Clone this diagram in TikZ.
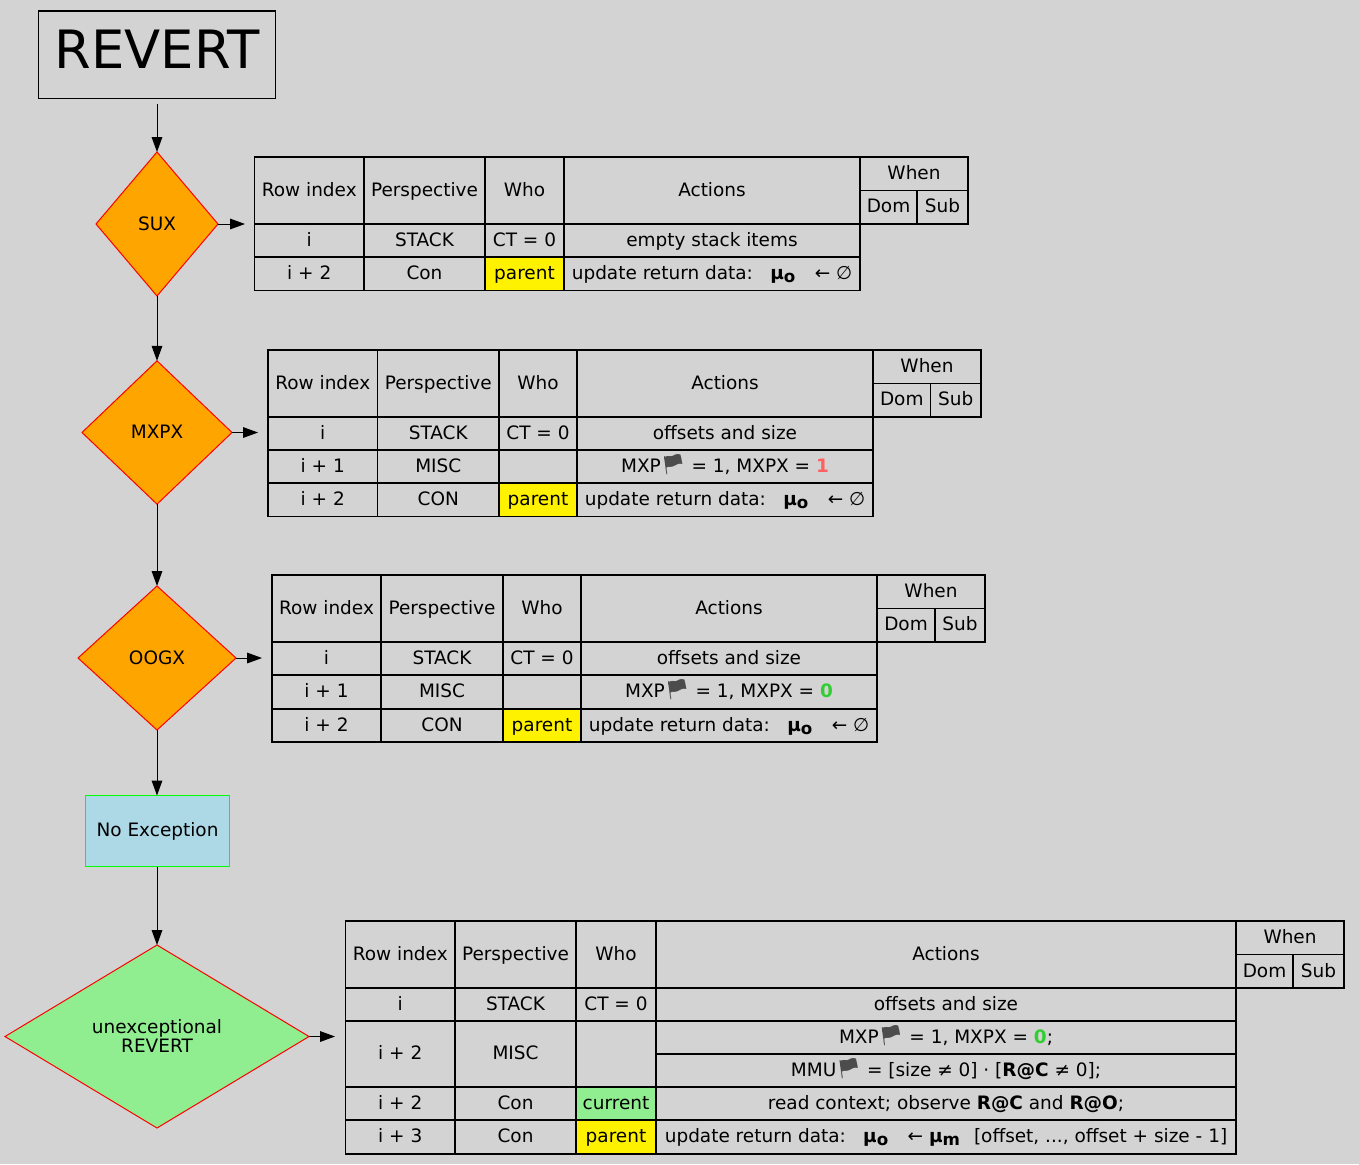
\documentclass[tikz,border=0pt]{standalone}
\usepackage{fontspec}
\setmainfont{DejaVu Sans}
\newfontfamily\emojifont{Noto Emoji}
\usetikzlibrary{shapes.geometric,arrows.meta}
\definecolor{bg}{HTML}{D3D3D3}
\definecolor{hotred}{HTML}{FF6060}
\definecolor{okgreen}{HTML}{32CD32}
\definecolor{lgreen}{HTML}{90EE90}
\definecolor{lblue}{HTML}{ADD8E6}
\definecolor{dorange}{HTML}{FFA500}
\newcommand{\bm}[1]{{\bfseries #1}}
\newcommand{\flagmark}{\raisebox{0.9pt}{\hspace{-0.2pt}{\emojifont\fontsize{15}{15}\selectfont\textcolor{black!70}{\symbol{"1F3F4}}}\hspace{-0.2pt}}}
\newcommand{\muo}{\bm{μ}\raisebox{-2.2pt}{\bm{\fontsize{12.5}{12.5}\selectfont o}}}
\newcommand{\mum}{\bm{μ}\raisebox{-2.2pt}{\bm{\fontsize{12.5}{12.5}\selectfont m}}}
\newcommand{\update}[1]{update return data:\hspace{13pt}\muo\hspace{14.6pt}← #1}
\tikzset{
  cellbox/.style={draw=black,line width=0.8pt,rectangle,inner sep=0pt,outer sep=0pt,
    text height=8.6pt,text depth=0pt,font=\fontsize{13.85}{15}\selectfont},
  diam/.style={diamond,draw=red,line width=0.75pt,inner sep=0pt,outer sep=0pt,shape aspect=1,
    align=center,font=\fontsize{13.85}{14.2}\selectfont},
  flow/.style={draw=black,line width=0.75pt,-{Triangle[length=11.25pt,width=8pt]}},
}
\newcommand{\tcell}[7][none]{%
  \node[cellbox,fill=#1,minimum width={(#5-#3)*0.75pt},minimum height={(#6-#4)*0.75pt}]
    (#2) at ({(#3+#5)/2},{(#4+#6)/2}) {#7};}
% header: prefix x0..x6 y0
\newcommand{\thead}[9]{%
  \def\xa{#2}\def\xb{#3}\def\xc{#4}\def\xd{#5}\def\xe{#6}\def\xf{#7}\def\xg{#8}%
  \pgfmathsetmacro{\ya}{#9+33.5}\pgfmathsetmacro{\yb}{#9+67}%
  \tcell{#1h1}{#2}{#9}{#3}{\yb}{Row index}%
  \tcell{#1h2}{#3}{#9}{#4}{\yb}{Perspective}%
  \tcell{#1h3}{#4}{#9}{#5}{\yb}{Who}%
  \tcell{#1h4}{#5}{#9}{#6}{\yb}{Actions}%
  \tcell{#1h5}{#6}{#9}{#8}{\ya}{When}%
  \tcell{#1h6}{#6}{\ya}{#7}{\yb}{Dom}%
  \tcell{#1h7}{#7}{\ya}{#8}{\yb}{Sub}}
% row: name y1 y2 idx persp fill who action
\newcommand{\trow}[8]{%
  \tcell{#1a}{\xa}{#2}{\xb}{#3}{#4}%
  \tcell{#1b}{\xb}{#2}{\xc}{#3}{#5}%
  \tcell[#6]{#1c}{\xc}{#2}{\xd}{#3}{#7}%
  \tcell{#1d}{\xd}{#2}{\xe}{#3}{#8}}
\begin{document}
\begin{tikzpicture}[x=0.75pt,y=-0.75pt]
\useasboundingbox[fill=bg] (0,0) rectangle (1359,1164);

% flow nodes
\node[draw=black,line width=0.8pt,rectangle,inner sep=0pt,outer sep=0pt,minimum width=177.75pt,minimum height=65.6pt,text height=20.6pt,text depth=0pt,font=\fontsize{39.6}{40}\selectfont]
  (revert) at (157,54.75) {REVERT};
\node[diam,fill=dorange,minimum width=91.5pt,minimum height=108pt] (sux) at (157,224) {SUX};
\node[diam,fill=dorange,minimum width=112.5pt,minimum height=107.5pt] (mxpx) at (157,432.5) {\raisebox{0.5pt}{MXPX}};
\node[diam,fill=dorange,minimum width=118.5pt,minimum height=108pt] (oogx) at (157,658) {OOGX};
\node[draw=green,line width=0.9pt,fill=lblue,rectangle,inner sep=0pt,outer sep=0pt,minimum width=108pt,minimum height=53.25pt,font=\fontsize{13.85}{15}\selectfont]
  (noexc) at (157.5,831) {No Exception};
\node[diam,fill=lgreen,minimum width=228pt,minimum height=137.25pt] (unexc) at (157,1036.5) {\raisebox{0.6pt}{unexceptional}\\\raisebox{0.6pt}{REVERT}};

% table 1
\thead{t1}{254.5}{364}{485}{564}{860}{917}{968}{157}
\trow{t1r1}{224}{257}{i}{STACK}{none}{CT = 0}{empty stack items}
\trow{t1r2}{257}{290.5}{i + 2}{Con}{yellow}{parent}{\update{∅}}

% table 2
\thead{t2}{268}{377.5}{499}{577}{873}{930.5}{981}{350}
\trow{t2r1}{417}{450}{i}{STACK}{none}{CT = 0}{offsets and size}
\trow{t2r2}{450}{483}{i + 1}{MISC}{none}{}{MXP\flagmark{} = 1, MXPX = \textcolor{hotred}{\bm{1}}}
\trow{t2r3}{483}{516.5}{i + 2}{CON}{yellow}{parent}{\update{∅}}

% table 3
\thead{t3}{272}{381}{503}{581}{877}{935}{985}{575}
\trow{t3r1}{642}{675}{i}{STACK}{none}{CT = 0}{offsets and size}
\trow{t3r2}{675}{709}{i + 1}{MISC}{none}{}{MXP\flagmark{} = 1, MXPX = \textcolor{okgreen}{\bm{0}}}
\trow{t3r3}{709}{742}{i + 2}{CON}{yellow}{parent}{\update{∅}}

% table 4
\thead{t4}{345.5}{455}{576}{656}{1236}{1293}{1344}{921}
\trow{t4r1}{988}{1021}{i}{STACK}{none}{CT = 0}{offsets and size}
\tcell{t4r2a}{345.5}{1021}{455}{1087}{i + 2}
\tcell{t4r2b}{455}{1021}{576}{1087}{MISC}
\tcell{t4r2c}{576}{1021}{656}{1087}{}
\tcell{t4r2d}{656}{1021}{1236}{1054}{MXP\flagmark{} = 1, MXPX = \textcolor{okgreen}{\bm{0}};}
\tcell{t4r3d}{656}{1054}{1236}{1087}{MMU\flagmark{} = [size ≠ 0] · [\bm{R@C} ≠ 0];}
\trow{t4r4}{1087}{1120}{i + 2}{Con}{lgreen}{current}{read context; observe \bm{R@C} and \bm{R@O};}
\trow{t4r5}{1120}{1154}{i + 3}{Con}{yellow}{parent}{\update{\mum\hspace{10.5pt}[offset, ..., offset + size - 1]}}

% free ends of the side arrows
\coordinate (e1) at (245,224);
\coordinate (e2) at (258,432.5);
\coordinate (e3) at (262,658);
\coordinate (e4) at (335,1036.5);

% connectors
\draw[flow,shorten <=4.5pt] (revert) -- (sux);
\draw[flow] (sux) -- (mxpx);
\draw[flow] (mxpx) -- (oogx);
\draw[flow] (oogx.south) -- (oogx.south |- noexc.north);
\draw[flow] (unexc.north |- noexc.south) -- (unexc.north);
\draw[flow] (sux) -- (e1);
\draw[flow] (mxpx) -- (e2);
\draw[flow] (oogx) -- (e3);
\draw[flow] (unexc) -- (e4);
\end{tikzpicture}
\end{document}
